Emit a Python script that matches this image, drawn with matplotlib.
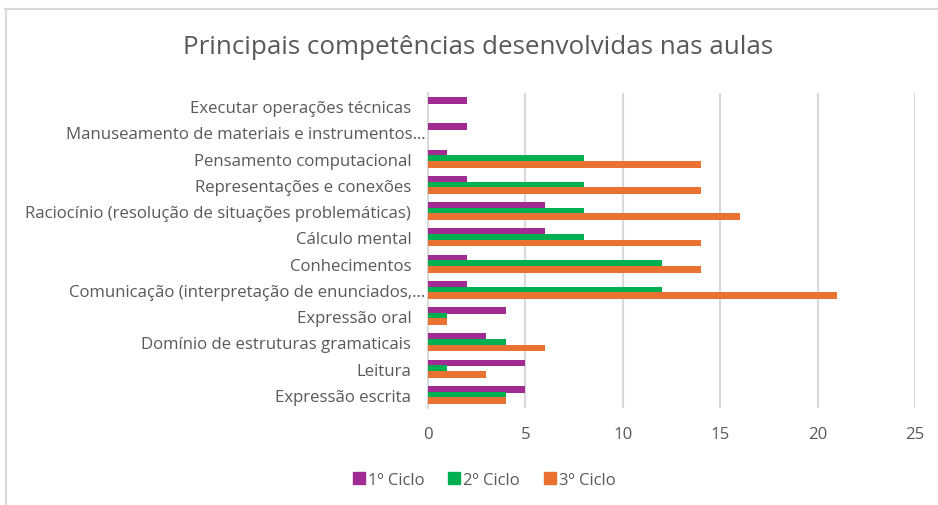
import numpy as np
import matplotlib.pyplot as plt
import matplotlib.transforms as mtransforms
from matplotlib.lines import Line2D

# =====================================================
# Data (bottom -> top, as drawn)
# =====================================================

categories = [
    "Expressão escrita",
    "Leitura",
    "Domínio de estruturas gramaticais",
    "Expressão oral",
    "Comunicação (interpretação de enunciados,…",
    "Conhecimentos",
    "Cálculo mental",
    "Raciocínio (resolução de situações problemáticas)",
    "Representações e conexões",
    "Pensamento computacional",
    "Manuseamento de materiais e instrumentos…",
    "Executar operações técnicas",
]

ciclo1 = [5, 5, 3, 4, 2, 2, 6, 6, 2, 1, 2, 2]
ciclo2 = [4, 1, 4, 1, 12, 12, 8, 8, 8, 8, 0, 0]
ciclo3 = [4, 3, 6, 1, 21, 14, 14, 16, 14, 14, 0, 0]

series_names = ["1º Ciclo", "2º Ciclo", "3º Ciclo"]
colors = ["#A02B93", "#00B050", "#E97132"]

xticks = [0, 5, 10, 15, 20, 25]

# =====================================================
# Plot
# =====================================================

plt.rcParams['font.family'] = ['Open Sans', 'DejaVu Sans']
text_color = "#595959"

fig = plt.figure(figsize=(9.38, 5.06), dpi=100)
ax = fig.add_axes([428 / 938, 1 - 409 / 506, 487 / 938, 315 / 506])

y = np.arange(len(categories))
pitch = 0.215
height = 0.25

for i, (vals, name, c) in enumerate(zip([ciclo1, ciclo2, ciclo3], series_names, colors)):
    ax.barh(y + (1 - i) * pitch, vals, height=height, color=c, label=name, zorder=3)

ax.set_xlim(0, 25)
ax.set_ylim(-0.5, len(categories) - 0.5)
ax.set_xticks(xticks)
ax.set_yticks(y)
ax.set_yticklabels(categories)

ax.grid(axis='x', color='#D9D9D9', linewidth=1.5, zorder=0)
for s in ['top', 'right', 'bottom']:
    ax.spines[s].set_visible(False)
ax.spines['left'].set_color('#D9D9D9')
ax.spines['left'].set_linewidth(1.5)

ax.tick_params(axis='y', length=0, pad=12, labelsize=12.1, labelcolor=text_color)
ax.tick_params(axis='x', length=0, pad=13, labelsize=12.1, labelcolor=text_color)

# truncated labels sit a bit further right (as in the source chart)
for lbl in ax.get_yticklabels():
    if lbl.get_text().endswith("…"):
        lbl.set_transform(lbl.get_transform() +
                          mtransforms.ScaledTranslation(14 / 100, 0, fig.dpi_scale_trans))

# Title
fig.text(478 / 938, 1 - 47 / 506, "Principais competências desenvolvidas nas aulas",
         ha='center', va='center', fontsize=18.7, color=text_color)

# Legend
handles = [Line2D([], [], marker='s', linestyle='none', markersize=9,
                  markerfacecolor=c, markeredgecolor=c) for c in colors]
fig.legend(handles, series_names, loc='center', bbox_to_anchor=(483 / 938, 1 - 481 / 506),
           ncol=3, frameon=False, fontsize=12, labelcolor=text_color,
           handletextpad=0.05, columnspacing=1.3, handlelength=1.0)

# Chart border
fig.add_artist(Line2D([5 / 938, 1], [1 - 10 / 506, 1 - 10 / 506], color='#D9D9D9', linewidth=1.5))
fig.add_artist(Line2D([6 / 938, 6 / 938], [0, 1 - 10 / 506], color='#D9D9D9', linewidth=1.5))

plt.savefig("out.png", dpi=100)
